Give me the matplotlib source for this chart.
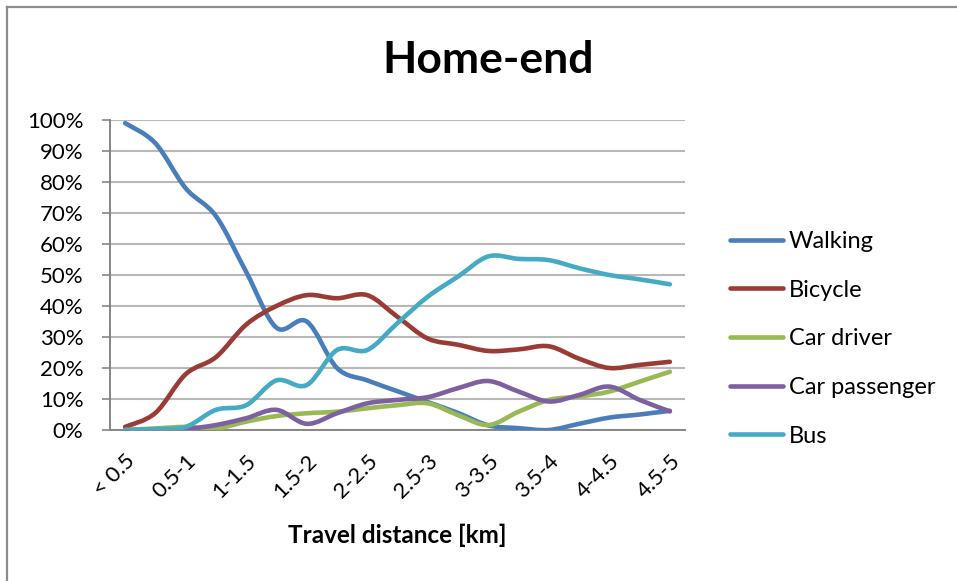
import matplotlib
matplotlib.use("Agg")
import matplotlib.pyplot as plt
from matplotlib.path import Path
from matplotlib.patches import PathPatch
from matplotlib.lines import Line2D
import numpy as np

# ---------------- data ----------------
tick_labels = ["< 0.5", "0.5-1", "1-1.5", "1.5-2", "2-2.5", "2.5-3",
               "3-3.5", "3.5-4", "4-4.5", "4.5-5"]
series_names = ["Walking", "Bicycle", "Car driver", "Car passenger", "Bus"]

walking = [99, 92.5, 78, 69, 51, 33, 35, 20, 16, 12.5,
           9, 5.5, 1.5, 0.6, 0, 2, 4, 5, 6.2]
bicycle = [1, 5.5, 18, 23.5, 34, 40, 43.5, 42.5, 43.5, 36.5,
           29.5, 27.5, 25.5, 26, 27, 23, 20, 21, 22]
car_driver = [0, 0.5, 1, 0.5, 2.7, 4.5, 5.4, 5.9, 7, 8,
              8.6, 4.8, 1.6, 5.9, 9.7, 10.8, 12.4, 15.6, 18.8]
car_passenger = [0, 0, 0.3, 1.6, 3.8, 6.5, 2, 5.4, 8.6, 9.7,
                 10.6, 13.5, 15.8, 12.4, 9.2, 11.3, 14, 9.7, 6]
bus = [0, 0.3, 1, 6.5, 8, 16, 14.5, 25.8, 25.8, 34.5,
       43, 49.5, 56, 55.2, 54.8, 52.2, 50, 48.6, 47]

colors = ["#4A7EBB", "#9B3B36", "#98B954", "#7D60A0", "#46AAC5"]

FONT = ["Lato", "DejaVu Sans"]
plt.rcParams["font.family"] = FONT

W, H = 957, 581
fig = plt.figure(figsize=(W / 100, H / 100), dpi=100)
fig.patch.set_facecolor("white")

ax = fig.add_axes([110 / W, 1 - 430 / H, 575 / W, 310 / H])


def smooth_path(xs, ys):
    pts = np.column_stack([xs, ys]).astype(float)
    n = len(pts)
    verts = [pts[0]]
    codes = [Path.MOVETO]
    for i in range(n - 1):
        p0 = pts[i - 1] if i > 0 else pts[i]
        p1 = pts[i]
        p2 = pts[i + 1]
        p3 = pts[i + 2] if i + 2 < n else pts[i + 1]
        c1 = p1 + (p2 - p0) / 6.0
        c2 = p2 - (p3 - p1) / 6.0
        verts += [c1, c2, p2]
        codes += [Path.CURVE4] * 3
    return Path(verts, codes)


all_series = [walking, bicycle, car_driver, car_passenger, bus]
x = np.arange(len(walking))
handles = []
for name, vals, col in zip(series_names, all_series, colors):
    patch = PathPatch(smooth_path(x, vals), facecolor="none", edgecolor=col,
                      lw=3.3, capstyle="round", joinstyle="round", zorder=3)
    ax.add_patch(patch)
    handles.append(Line2D([0], [0], color=col, lw=3.3, solid_capstyle="round",
                          label=name))

ax.set_xlim(-0.5, len(walking) - 0.5)
ax.set_ylim(0, 100)
ax.set_yticks(np.arange(0, 101, 10))
ax.set_yticklabels([f"{v}%" for v in range(0, 101, 10)])
ax.set_xticks(np.arange(0, len(walking), 2))
ax.set_xticklabels(tick_labels, rotation=45, ha="right", va="top",
                   rotation_mode="anchor")
ax.tick_params(axis="y", length=6, width=1.2, color="#868686", pad=13,
               labelsize=16, labelcolor="black")
ax.tick_params(axis="x", length=0, pad=15, labelsize=16, labelcolor="black")
ax.grid(axis="y", color="#B8B8B8", lw=1.5)
ax.set_axisbelow(True)
for s in ["top", "right"]:
    ax.spines[s].set_visible(False)
for s in ["left", "bottom"]:
    ax.spines[s].set_color("#868686")
    ax.spines[s].set_linewidth(1.4)

fig.text(488.5 / W, 1 - 60 / H, "Home-end", ha="center", va="center",
         fontsize=32, fontweight="bold")
fig.text(397 / W, 1 - 535 / H, "Travel distance [km]", ha="center",
         va="center", fontsize=17.5, fontweight="bold")

leg = fig.legend(handles=handles, loc="upper left",
                 bbox_to_anchor=(730 / W, 1 - 231 / H), frameon=False,
                 fontsize=17, handlelength=2.25, handletextpad=0.25,
                 labelspacing=1.17, borderaxespad=0, borderpad=0)

# outer chart border
fig.add_artist(Line2D([7 / W, 1], [1 - 7 / H, 1 - 7 / H], color="#8C8C8C",
                      lw=1.6, transform=fig.transFigure))
fig.add_artist(Line2D([7 / W, 7 / W], [0, 1 - 7 / H], color="#8C8C8C",
                      lw=1.6, transform=fig.transFigure))

fig.savefig("out.png", dpi=100)
